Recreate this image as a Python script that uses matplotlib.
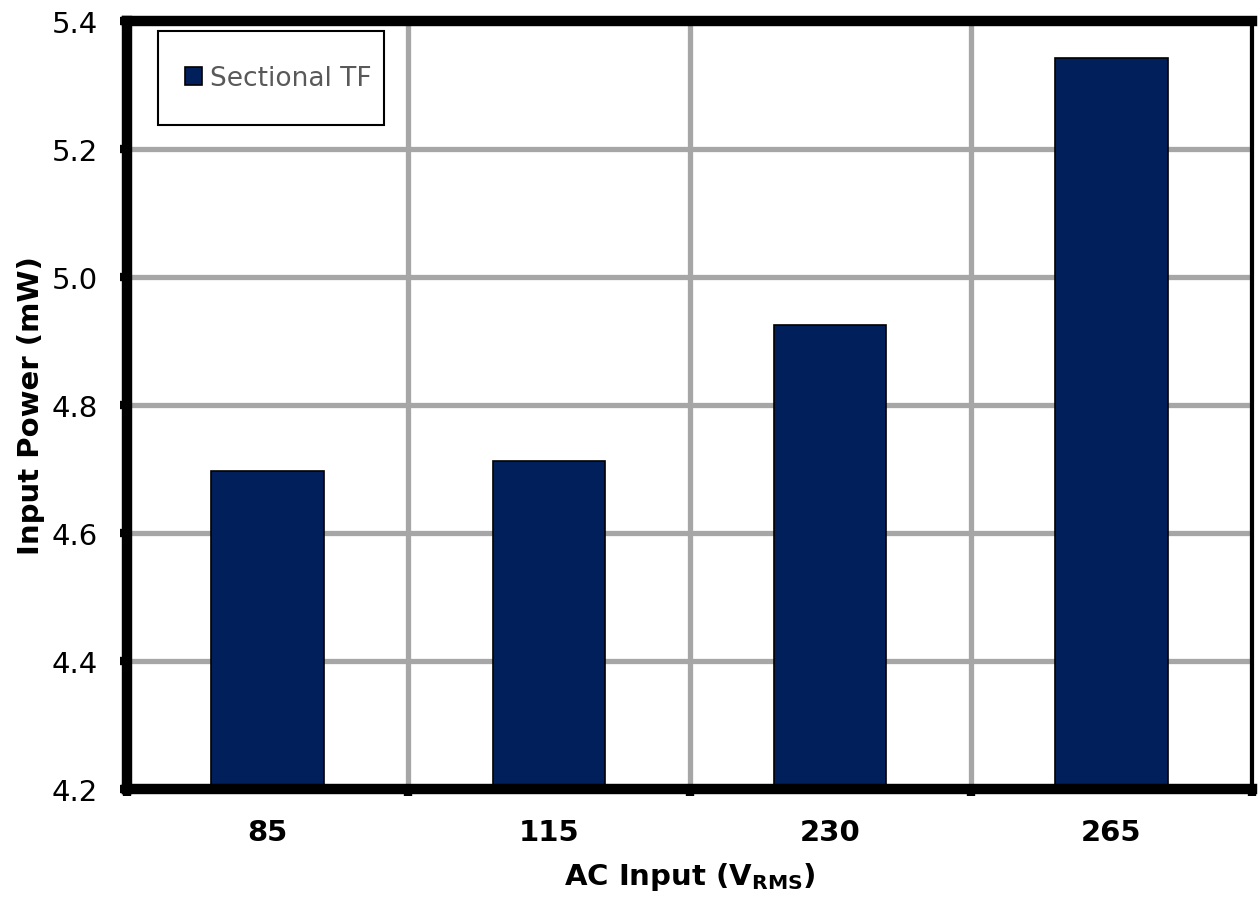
import matplotlib
matplotlib.use("Agg")
import matplotlib.pyplot as plt
from matplotlib.patches import Rectangle
import numpy as np

categories = ["85", "115", "230", "265"]
values = [4.697, 4.713, 4.925, 5.342]
series_name = "Sectional TF"
y_ticks = [4.2, 4.4, 4.6, 4.8, 5.0, 5.2, 5.4]

plt.rcParams['font.family'] = ['DejaVu Sans']
plt.rcParams['mathtext.fontset'] = 'dejavusans'

W, H = 1258, 904
fig = plt.figure(figsize=(W/100, H/100), dpi=100)
ax = fig.add_axes([127/W, 1 - 790/H, (1252-127)/W, (790-22)/H])

x = np.arange(len(categories))
ax.bar(x, values, width=0.40, bottom=0, color="#001F5B", edgecolor="black",
       linewidth=1.2, label=series_name, zorder=3)

ax.set_xlim(-0.5, len(categories) - 0.5)
ax.set_ylim(y_ticks[0], y_ticks[-1])
ax.set_yticks(y_ticks)
ax.set_yticklabels([f"{v:.1f}" for v in y_ticks], fontsize=21)

ax.set_xticks(x)
ax.set_xticklabels(categories, fontsize=21, fontweight="bold")
ax.set_xticks(np.arange(-0.5, len(categories)), minor=True)
ax.tick_params(axis="x", which="major", length=0, pad=21)
ax.tick_params(axis="x", which="minor", length=5, width=6, direction="out", color="black")
ax.tick_params(axis="y", which="major", length=5, width=6, direction="out", pad=16)

ax.grid(True, axis="y", which="major", color="#A6A6A6", linewidth=3.8, zorder=0)
ax.grid(True, axis="x", which="minor", color="#A6A6A6", linewidth=3.8, zorder=0)
ax.grid(False, axis="x", which="major")
ax.set_axisbelow(True)

for side in ["left", "bottom", "top"]:
    ax.spines[side].set_linewidth(7.5)
    ax.spines[side].set_zorder(5)
ax.spines["right"].set_linewidth(3)

ax.set_xlabel(r"AC Input (V$_\mathbf{RMS}$)", fontsize=21, fontweight="bold", labelpad=10)
ax.set_ylabel("Input Power (mW)", fontsize=21, fontweight="bold", labelpad=5)

# legend box
box = Rectangle((158/W, 1 - 126/H), (384-158)/W, (126-32)/H, transform=fig.transFigure,
                facecolor="white", edgecolor="black", linewidth=1.5, zorder=10,
                clip_on=False)
ax.add_patch(box)

leg = ax.legend(loc="center left", bbox_to_anchor=((185-127)/1125, (790-79)/768),
                borderaxespad=0, fontsize=19, frameon=False,
                handlelength=0.65, handleheight=0.65, handletextpad=0.3,
                borderpad=0)
leg.set_zorder(11)
for t in leg.get_texts():
    t.set_color("#595959")

fig.savefig("out.png", dpi=100)
